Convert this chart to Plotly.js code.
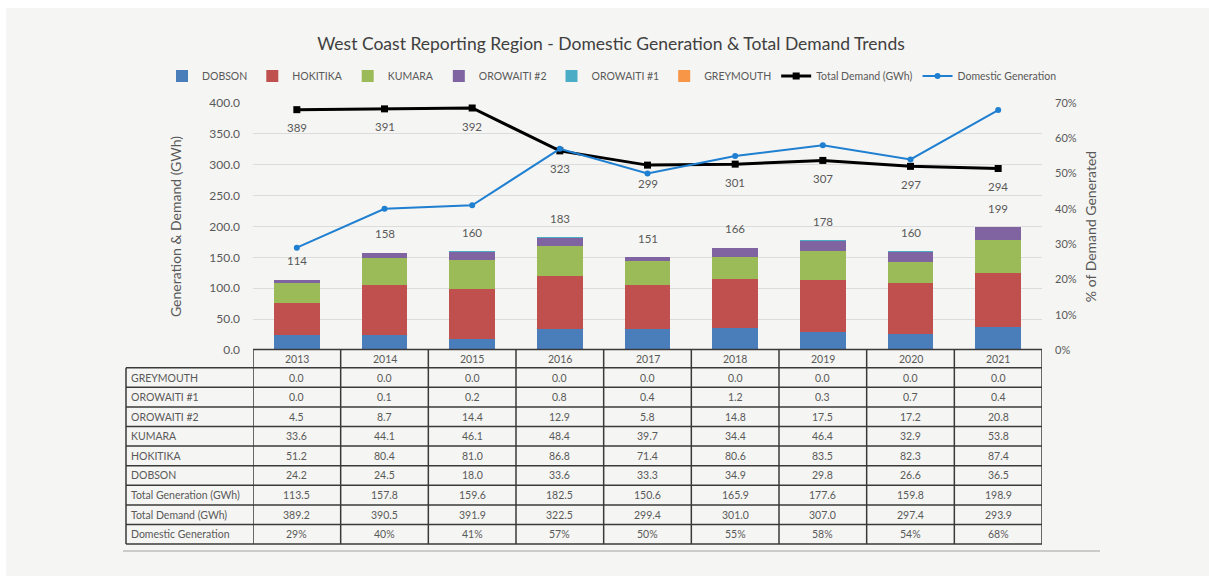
<!DOCTYPE html>
<html><head><meta charset="utf-8">
<script src="https://cdn.plot.ly/plotly-3.0.1.min.js"></script>
<style>html,body{margin:0;padding:0;background:#fff}</style>
</head><body><div id="chart" style="width:1209px;height:576px"></div>
<script>
const years = ['2013','2014','2015','2016','2017','2018','2019','2020','2021'];
const greymouth = [0.0,0.0,0.0,0.0,0.0,0.0,0.0,0.0,0.0];
const orowaiti1 = [0.0,0.1,0.2,0.8,0.4,1.2,0.3,0.7,0.4];
const orowaiti2 = [4.5,8.7,14.4,12.9,5.8,14.8,17.5,17.2,20.8];
const kumara = [33.6,44.1,46.1,48.4,39.7,34.4,46.4,32.9,53.8];
const hokitika = [51.2,80.4,81.0,86.8,71.4,80.6,83.5,82.3,87.4];
const dobson = [24.2,24.5,18.0,33.6,33.3,34.9,29.8,26.6,36.5];
const totalGen = [113.5,157.8,159.6,182.5,150.6,165.9,177.6,159.8,198.9];
const totalDemand = [389.2,390.5,391.9,322.5,299.4,301.0,307.0,297.4,293.9];
const domesticPct = [0.29,0.40,0.41,0.57,0.50,0.55,0.58,0.54,0.68];
const rowLabels = ['GREYMOUTH','OROWAITI #1','OROWAITI #2','KUMARA','HOKITIKA','DOBSON','Total Generation (GWh)','Total Demand (GWh)','Domestic Generation'];

const FONT = 'Lato, "Open Sans", sans-serif';
const GRAY = '#595959';
const plotL = 253, plotR = 1042, plotT = 103, plotB = 350;
const W = plotR - plotL, H = plotB - plotT;
const py = p => (plotB - p) / H;
const px = p => (p - plotL) / W;

const barSeries = [
  ['DOBSON', dobson, '#4a7ebb'],
  ['HOKITIKA', hokitika, '#c0504d'],
  ['KUMARA', kumara, '#9bbb59'],
  ['OROWAITI #2', orowaiti2, '#8064a2'],
  ['OROWAITI #1', orowaiti1, '#4bacc6'],
  ['GREYMOUTH', greymouth, '#f79646']
];
const traces = barSeries.map(([name, vals, color]) => ({
  type: 'bar', name: name, x: years, y: vals, marker: {color: color},
  hoverinfo: 'x+y+name'
}));
traces.push({
  type: 'scatter', mode: 'lines+markers', name: 'Total Demand (GWh)', x: years, y: totalDemand,
  line: {color: '#000000', width: 3}, marker: {symbol: 'square', size: 7, color: '#000000'}
});
traces.push({
  type: 'scatter', mode: 'lines+markers', name: 'Domestic Generation', x: years, y: domesticPct, yaxis: 'y2',
  line: {color: '#1f7fd1', width: 2}, marker: {symbol: 'circle', size: 6, color: '#1f7fd1'}
});

const annotations = [];
const shapes = [];
// background
shapes.push({type:'rect', xref:'paper', yref:'paper', x0: px(6), x1: px(1209), y0: py(8), y1: py(576),
  fillcolor:'#f5f5f3', line:{width:0}, layer:'below'});
// bottom separator
shapes.push({type:'line', xref:'paper', yref:'paper', x0: px(123), x1: px(1100), y0: py(551), y1: py(551),
  line:{color:'#bdbdbd', width:1.5}});

// totals above bars, demand labels below points
years.forEach((yr, i) => {
  annotations.push({x: i, y: totalGen[i], xref:'x', yref:'y', text: String(Math.round(totalGen[i])),
    showarrow:false, yshift: 19, font:{family:FONT, size:11.5, color:GRAY}});
  annotations.push({x: i, y: totalDemand[i], xref:'x', yref:'y', text: String(Math.round(totalDemand[i])),
    showarrow:false, yshift: -18, font:{family:FONT, size:11.5, color:GRAY}});
});

// table
const headTop = 349.5, headBot = 367.7, rowH = 19.6;
const rowTops = [];
for (let r = 0; r <= rowLabels.length; r++) rowTops.push(headBot + r * rowH);
const tableBottom = rowTops[rowTops.length - 1];
const lineStyle = {color:'#3a3a3a', width:1.5};
const labelLeft = 126;
shapes.push({type:'line', xref:'paper', yref:'paper', x0:0, x1:1, y0:py(headTop), y1:py(headTop), line:lineStyle});
rowTops.forEach(t => shapes.push({type:'line', xref:'paper', yref:'paper', x0:px(labelLeft), x1:1, y0:py(t), y1:py(t), line:lineStyle}));
for (let i = 0; i <= years.length; i++) {
  shapes.push({type:'line', xref:'x', yref:'paper', x0:i-0.5, x1:i-0.5, y0:py(headTop), y1:py(tableBottom), line:lineStyle});
}
shapes.push({type:'line', xref:'paper', yref:'paper', x0:px(labelLeft), x1:px(labelLeft), y0:py(headBot), y1:py(tableBottom), line:lineStyle});

const fmt1 = v => v.toFixed(1);
const rowValues = [
  greymouth.map(fmt1), orowaiti1.map(fmt1), orowaiti2.map(fmt1), kumara.map(fmt1),
  hokitika.map(fmt1), dobson.map(fmt1), totalGen.map(fmt1), totalDemand.map(fmt1),
  domesticPct.map(v => Math.round(v * 100) + '%')
];
const tfont = {family:FONT, size:10.5, color:GRAY};
years.forEach((yr, i) => {
  annotations.push({x: i, y: py((headTop + headBot) / 2), xref:'x', yref:'paper', text: yr,
    showarrow:false, font:tfont, yanchor:'middle'});
});
rowLabels.forEach((lab, r) => {
  const cy = py((rowTops[r] + rowTops[r + 1]) / 2);
  annotations.push({x: px(129), y: cy, xref:'paper', yref:'paper', text: lab, xanchor:'left', yanchor:'middle',
    showarrow:false, font:tfont});
  years.forEach((yr, i) => {
    annotations.push({x: i, y: cy, xref:'x', yref:'paper', text: rowValues[r][i], yanchor:'middle',
      showarrow:false, font:tfont});
  });
});

const layout = {
  width: 1209, height: 576,
  margin: {l: plotL, r: 1209 - plotR, t: plotT, b: 576 - plotB, pad: 0},
  paper_bgcolor: '#ffffff', plot_bgcolor: 'rgba(0,0,0,0)',
  font: {family: FONT, color: GRAY},
  title: {text: 'West Coast Reporting Region - Domestic Generation &amp; Total Demand Trends',
    font: {family: FONT, size: 17.5, color: '#404040'}, x: 611/1209, xref: 'container', xanchor: 'center', y: 1 - 44/576, yanchor: 'middle'},
  barmode: 'stack', bargap: 0.48,
  showlegend: true,
  legend: {orientation: 'h', x: px(162), xanchor: 'left', y: py(76), yanchor: 'middle',
    traceorder: 'normal', font: {family: FONT, size: 10.5, color: GRAY}, bgcolor: 'rgba(0,0,0,0)',
    itemwidth: 30, tracegroupgap: 0},
  xaxis: {type: 'category', range: [-0.5, 8.5], showticklabels: false, showgrid: false, zeroline: false,
    showline: false, ticks: '', fixedrange: true},
  yaxis: {range: [0, 400], dtick: 50, tickformat: '.1f', showgrid: true, gridcolor: '#dcdcdc', gridwidth: 1,
    zeroline: false, showline: false, ticks: '', ticklabelstandoff: 12,
    tickfont: {family: FONT, size: 12, color: GRAY},
    title: {text: 'Generation &amp; Demand (GWh)', font: {family: FONT, size: 14, color: GRAY}, standoff: 24}},
  yaxis2: {range: [0, 0.7], dtick: 0.1, tickformat: '.0%', overlaying: 'y', side: 'right', showgrid: false,
    zeroline: false, showline: false, ticks: '', ticklabelstandoff: 12,
    tickfont: {family: FONT, size: 11, color: GRAY},
    title: {text: '% of Demand Generated', font: {family: FONT, size: 14, color: GRAY}, standoff: 10}},
  annotations: annotations,
  shapes: shapes
};
Plotly.newPlot('chart', traces, layout, {displayModeBar: false, staticPlot: true});
</script></body></html>
